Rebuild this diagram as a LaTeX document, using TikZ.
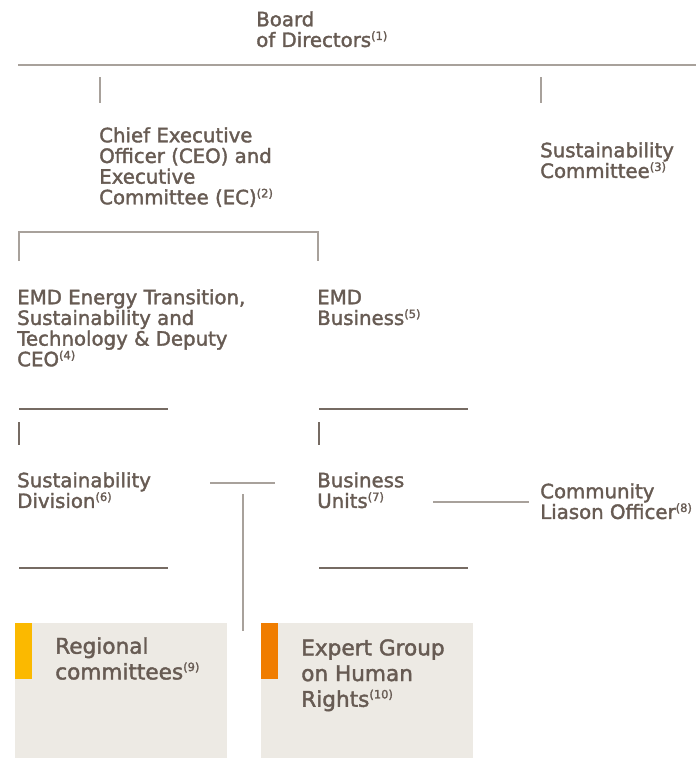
\documentclass[tikz,border=0pt]{standalone}
\usepackage{fontspec}
\setmainfont{DejaVu Sans}[FakeBold=1.8]
\definecolor{ink}{HTML}{675B53}
\definecolor{liteline}{HTML}{A8A19B}
\definecolor{darkline}{HTML}{766B63}
\definecolor{boxfill}{HTML}{EDEAE4}
\definecolor{barY}{HTML}{FBB900}
\definecolor{barO}{HTML}{F07D00}
\newcommand\fnm[1]{\textsuperscript{\fontsize{8.6pt}{9pt}\selectfont(#1)}}
\newcommand\tp{\rule{0pt}{11.25pt}}
\begin{document}
\begin{tikzpicture}[x=0.75pt,y=-0.75pt,
  txt/.style={anchor=north west, inner sep=0pt, align=left, text=ink,
    font=\fontsize{14.8pt}{15.5pt}\selectfont},
  boxtxt/.style={anchor=north west, inner sep=0pt, align=left, text=ink,
    font=\fontsize{16.2pt}{19.3pt}\selectfont},
  lite/.style={draw=liteline, line width=1.2pt},
  dark/.style={draw=darkline, line width=1.2pt}]
\useasboundingbox (0,0) rectangle (696,758);
% boxes
\fill[boxfill] (15,623) rectangle (227,758);
\fill[barY] (15,623) rectangle (32,679);
\fill[boxfill] (261,623) rectangle (473,758);
\fill[barO] (261,623) rectangle (278,679);
% text
\node[txt] (board) at (256,11) {\tp Board\\of Directors\fnm{1}};
\node[txt] (ceo) at (99,127) {\tp Chief Executive\\Officer (CEO) and\\Executive\\Committee (EC)\fnm{2}};
\node[txt] (sc) at (540,142) {\tp Sustainability\\Committee\fnm{3}};
\node[txt] (emdet) at (17,289) {\tp EMD Energy Transition,\\Sustainability and\\Technology \& Deputy\\CEO\fnm{4}};
\node[txt] (emdb) at (317,289) {\tp EMD\\Business\fnm{5}};
\node[txt] (sd) at (17,472) {\tp Sustainability\\Division\fnm{6}};
\node[txt] (bu) at (317,472) {\tp Business\\Units\fnm{7}};
\node[txt] (clo) at (540,483) {\tp Community\\Liason Officer\fnm{8}};
\node[boxtxt] (rc) at (55,637) {\tp Regional\\committees\fnm{9}};
\node[boxtxt] (eg) at (301,639) {\tp Expert Group\\on Human\\Rights\fnm{10}};
% connector coordinates
\coordinate (bl) at (18,65); \coordinate (br) at (696,65);
\coordinate (v1a) at (100,77); \coordinate (v1b) at (100,103);
\coordinate (v2a) at (541,77); \coordinate (v2b) at (541,103);
\coordinate (k1) at (19,261); \coordinate (k2) at (19,232);
\coordinate (k3) at (318,232); \coordinate (k4) at (318,261);
\coordinate (h1a) at (19,409); \coordinate (h1b) at (168,409);
\coordinate (h2a) at (319,409); \coordinate (h2b) at (468,409);
\coordinate (s1a) at (19,422); \coordinate (s1b) at (19,445);
\coordinate (s2a) at (319,422); \coordinate (s2b) at (319,445);
\coordinate (m1a) at (210,483); \coordinate (m1b) at (275,483);
\coordinate (m2a) at (433,502); \coordinate (m2b) at (529,502);
\coordinate (va) at (243,494); \coordinate (vb) at (243,631);
\coordinate (g1a) at (19,568); \coordinate (g1b) at (168,568);
\coordinate (g2a) at (319,568); \coordinate (g2b) at (468,568);
% lines
\draw[lite] (bl) -- (br);
\draw[lite] (v1a) -- (v1b);
\draw[lite] (v2a) -- (v2b);
\draw[lite] (k1) -- (k2) -- (k3) -- (k4);
\draw[dark] (h1a) -- (h1b);
\draw[dark] (h2a) -- (h2b);
\draw[dark] (s1a) -- (s1b);
\draw[dark] (s2a) -- (s2b);
\draw[lite] (m1a) -- (m1b);
\draw[lite] (m2a) -- (m2b);
\draw[lite] (va) -- (vb);
\draw[dark] (g1a) -- (g1b);
\draw[dark] (g2a) -- (g2b);
\end{tikzpicture}
\end{document}
